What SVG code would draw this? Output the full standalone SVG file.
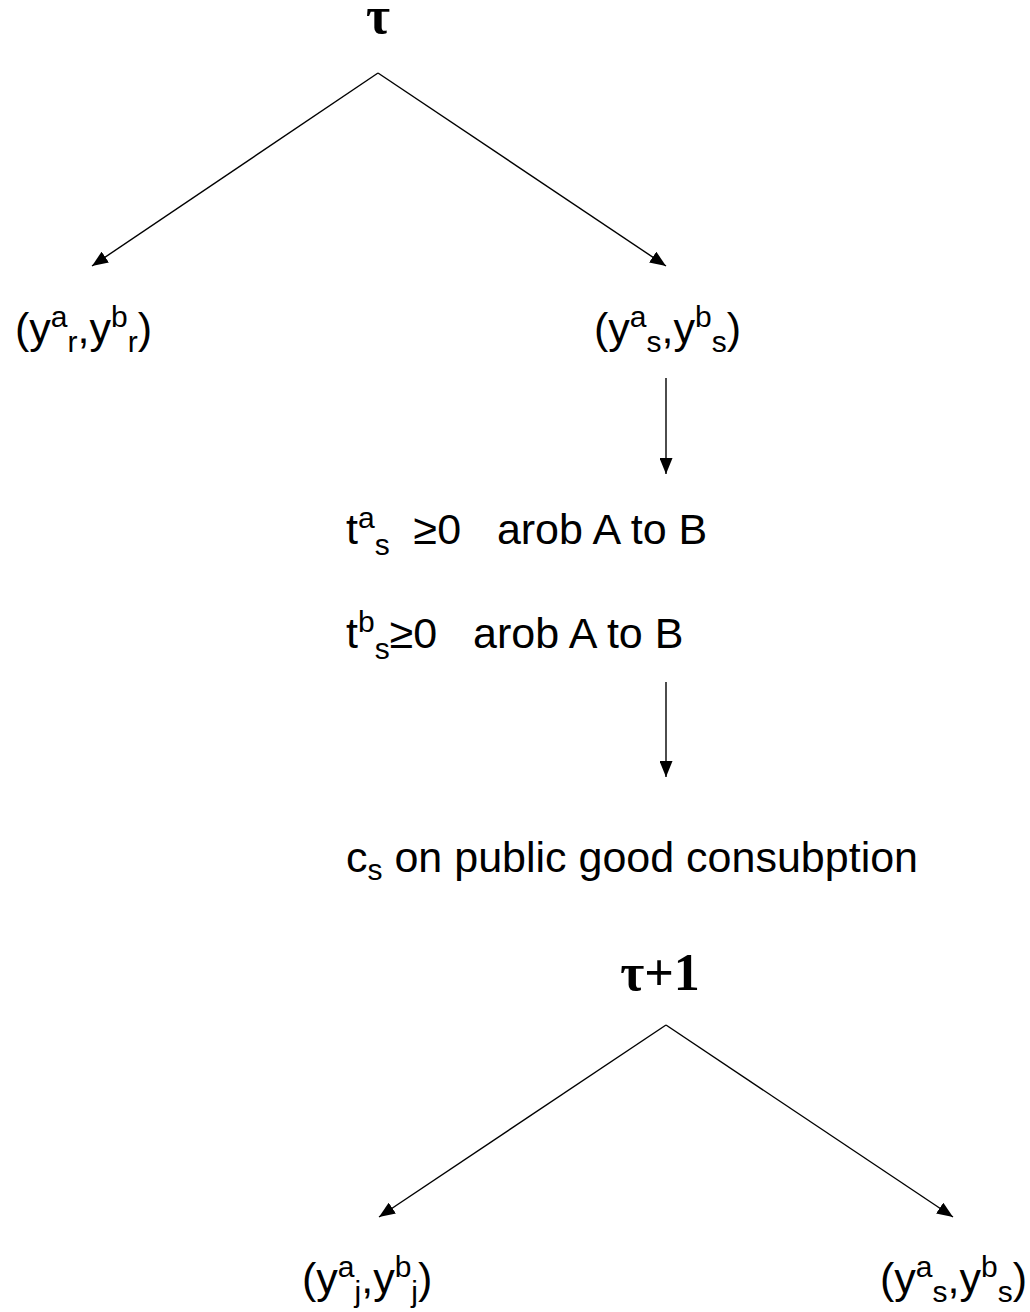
<svg xmlns="http://www.w3.org/2000/svg" width="1030" height="1312" viewBox="0 0 1030 1312">
<style>
.t{font-family:"Liberation Sans",Arial,sans-serif;font-size:43px;fill:#000}
.s{font-size:30px}
.g{font-family:"Liberation Serif","Times New Roman",serif;font-weight:bold;font-size:52px;fill:#000}
.c{stroke:#000;stroke-width:1.4;fill:none}
</style>
<defs>
<marker id="ah" viewBox="0 0 16 13" refX="16" refY="6.5" markerWidth="16" markerHeight="13" markerUnits="userSpaceOnUse" orient="auto">
<path d="M0,0 L16,6.5 L0,13 Z" fill="#000"/>
</marker>
</defs>
<rect width="1030" height="1312" fill="#fff"/>
<g id="connectors">
<line class="c" x1="378" y1="73" x2="92" y2="266" marker-end="url(#ah)"/>
<line class="c" x1="378" y1="73" x2="666" y2="266" marker-end="url(#ah)"/>
<line class="c" x1="666" y1="378" x2="666" y2="474" marker-end="url(#ah)"/>
<line class="c" x1="666" y1="682" x2="666" y2="777" marker-end="url(#ah)"/>
<line class="c" x1="666" y1="1025" x2="379" y2="1217" marker-end="url(#ah)"/>
<line class="c" x1="666" y1="1025" x2="953" y2="1217" marker-end="url(#ah)"/>
</g>
<g id="tau"><text class="g" x="378" y="33" text-anchor="middle">τ</text></g>
<g id="yr"><text class="t" x="15" y="343">(y<tspan class="s" dy="-16">a</tspan><tspan class="s" dy="25">r</tspan><tspan dy="-9">,y</tspan><tspan class="s" dy="-16">b</tspan><tspan class="s" dy="25">r</tspan><tspan dy="-9">)</tspan></text></g>
<g id="ys1"><text class="t" x="594" y="343">(y<tspan class="s" dy="-16">a</tspan><tspan class="s" dy="25">s</tspan><tspan dy="-9">,y</tspan><tspan class="s" dy="-16">b</tspan><tspan class="s" dy="25">s</tspan><tspan dy="-9">)</tspan></text></g>
<g id="ta"><text class="t" x="346" y="544">t<tspan class="s" dy="-16">a</tspan><tspan class="s" dy="27">s</tspan><tspan dy="-11" xml:space="preserve">  ≥0   arob A to B</tspan></text></g>
<g id="tb"><text class="t" x="346" y="648">t<tspan class="s" dy="-16">b</tspan><tspan class="s" dy="27">s</tspan><tspan dy="-11" xml:space="preserve">≥0   arob A to B</tspan></text></g>
<g id="cs"><text class="t" x="346" y="872">c<tspan class="s" dy="8">s</tspan><tspan dy="-8"> on public good consubption</tspan></text></g>
<g id="tau1"><text class="g" x="660" y="990" text-anchor="middle">τ+1</text></g>
<g id="yj"><text class="t" x="302" y="1293">(y<tspan class="s" dy="-16">a</tspan><tspan class="s" dy="25">j</tspan><tspan dy="-9">,y</tspan><tspan class="s" dy="-16">b</tspan><tspan class="s" dy="25">j</tspan><tspan dy="-9">)</tspan></text></g>
<g id="ys2"><text class="t" x="880" y="1293">(y<tspan class="s" dy="-16">a</tspan><tspan class="s" dy="25">s</tspan><tspan dy="-9">,y</tspan><tspan class="s" dy="-16">b</tspan><tspan class="s" dy="25">s</tspan><tspan dy="-9">)</tspan></text></g>
</svg>
